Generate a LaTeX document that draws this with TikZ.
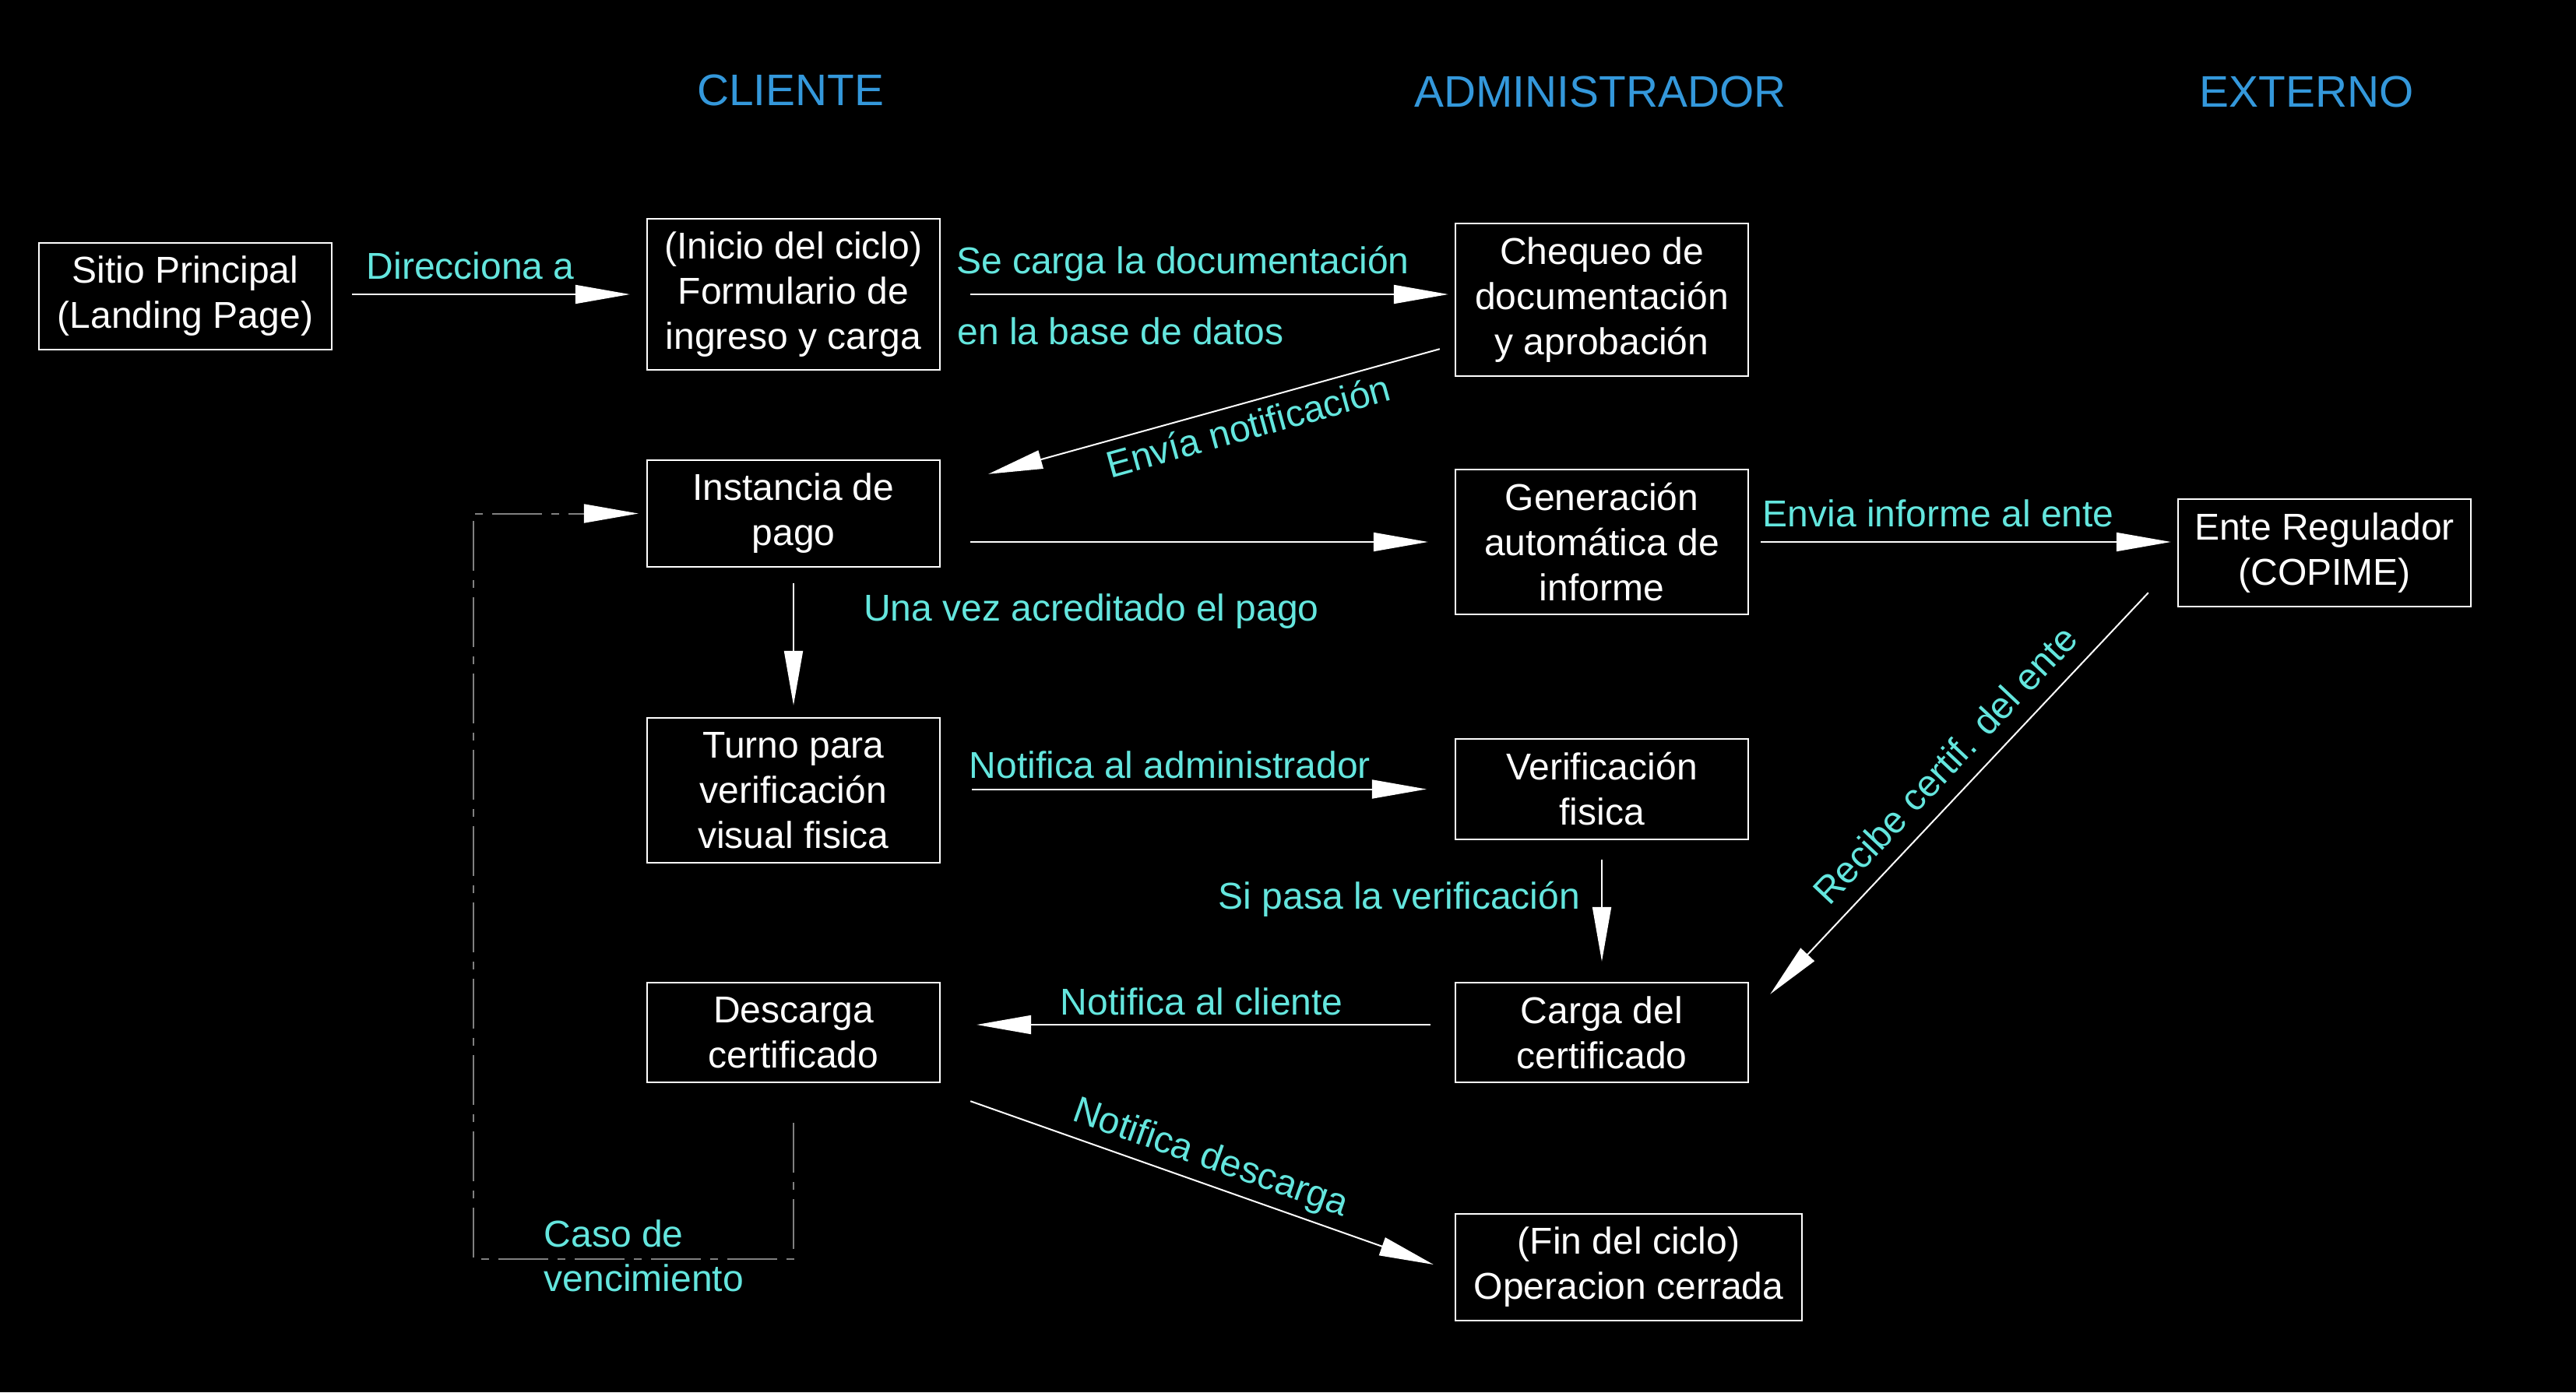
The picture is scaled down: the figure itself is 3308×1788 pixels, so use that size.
\documentclass[tikz,border=0pt]{standalone}
\usepackage{fontspec}
\setmainfont{Liberation Sans}
\usetikzlibrary{arrows.meta,calc}
\definecolor{etiq}{RGB}{100,230,222}
\definecolor{azultit}{RGB}{52,152,219}
\definecolor{gris}{RGB}{128,128,128}
\begin{document}
\begin{tikzpicture}[x=0.25pt,y=-0.25pt,
	caja/.style={draw=white, line width=0.6pt, text=white, align=center, minimum width=94pt, inner sep=0pt, font=\fontsize{12}{14.5}\selectfont},
	flecha/.style={white, line width=0.5pt, -{Triangle[length=17.5pt,width=6pt]}},
	vence/.style={draw=gris, line width=0.5pt, dash pattern=on 16pt off 3pt on 2.5pt off 3pt, -{Triangle[length=17.5pt,width=6pt,color=white,fill=white]}},
	etiqueta/.style={text=etiq, font=\fontsize{12}{14.5}\selectfont, inner sep=0pt, text height=8.6pt, text depth=0pt},
	nota/.style={text=etiq, font=\fontsize{12}{14.25}\selectfont, inner sep=0pt, align=left},
	titulo/.style={text=azultit, font=\fontsize{14.2}{17}\selectfont}]
		
		\fill[black] (0,0) rectangle (3308,1788);
		
		\node[titulo] (tcli) at (1015,116) {CLIENTE};
		\node[titulo] (tadm) at (2055,118) {ADMINISTRADOR};
		\node[titulo] (tex) at (2962,118) {EXTERNO};
		
		\node[caja, minimum height=34.25pt] (sitio) at (238,380.5) {Sitio Principal\\(Landing Page)};
		\node[caja, minimum height=48.5pt] (inicio) at (1019,378) {(Inicio del ciclo)\\Formulario de\\ingreso y carga};
		\node[caja, minimum height=49pt] (chequeo) at (2057,385) {Chequeo de\\documentación\\y aprobación};
		\node[caja, minimum height=34.25pt] (pago) at (1019,659.5) {Instancia de\\pago};
		\node[caja, minimum height=46.5pt] (informe) at (2057,696) {Generación\\automática de\\informe};
		\node[caja, minimum height=34.5pt] (ente) at (2985,710) {Ente Regulador\\(COPIME)};
		\node[caja, minimum height=46.5pt] (turno) at (1019,1015) {Turno para\\verificación\\visual fisica};
		\node[caja, minimum height=32.25pt] (verif) at (2057,1013.5) {Verificación\\fisica};
		\node[caja, minimum height=32pt] (descarga) at (1019,1326) {Descarga\\certificado};
		\node[caja, minimum height=32pt] (carga) at (2057,1326) {Carga del\\certificado};
		\node[caja, minimum height=34.25pt, minimum width=111.25pt] (fin) at (2091.5,1627.5) {(Fin del ciclo)\\Operacion cerrada};
		
		\draw[flecha, shorten <=6.25pt, shorten >=5.25pt] (sitio.east |- inicio.west) -- (inicio.west) node[etiqueta, pos=0.44, above=4.7pt] {Direcciona a};
		\draw[flecha, shorten <=9.5pt, shorten >=2pt] (inicio.east) -- (inicio.east -| chequeo.west)
			node[etiqueta, pos=0.471, above=6.45pt] {Se carga la documentación}
			node[etiqueta, pos=0.35, below=7.2pt] {en la base de datos};
		\draw[flecha] ($(chequeo.south west)+(-19,-36)$) -- ($(pago.north east)+(61,19)$) node[etiqueta, pos=0.438, sloped, below=2.9pt] {Envía notificación};
		\draw[flecha, shorten <=9.5pt, shorten >=8.5pt] (pago.east |- informe.west) -- (informe.west) node[etiqueta, pos=0.293, below=16.45pt] {Una vez acreditado el pago};
		\draw[flecha, shorten <=3.75pt, shorten >=2pt] (informe.east) -- (informe.east -| ente.west) node[etiqueta, pos=0.442, above=4.7pt] {Envia informe al ente};
		\draw[flecha] ($(ente.south west)+(-37,-19)$) -- ($(carga.north east)+(27,16)$) node[etiqueta, pos=0.48, sloped, above=5.2pt] {Recibe certif. del ente};
		\draw[flecha, shorten <=5pt, shorten >=3.75pt] (pago.south) -- (turno.north);
		\draw[flecha, shorten <=10pt, shorten >=9pt] (verif.west -| turno.east) -- (verif.west) node[etiqueta, pos=0.446, above=3.2pt] {Notifica al administrador};
		\draw[flecha, shorten <=6.25pt, shorten >=6.5pt] (verif.south) -- (carga.north) node[etiqueta, pos=0.39, left=6.75pt] {Si pasa la verificación};
		\draw[flecha, shorten <=7.75pt, shorten >=11.5pt] ([yshift=2.5pt]carga.west) -- ([yshift=2.5pt]descarga.east) node[etiqueta, pos=0.492, above=2.95pt] {Notifica al cliente};
		\draw[flecha] ($(descarga.south east)+(38,23)$) -- ($(fin.west)+(-27,-3.5)$) node[etiqueta, pos=0.5, sloped, above=4.7pt] {Notifica descarga};
		
		\draw[vence, shorten >=2.5pt] ($(descarga.south)+(0,51)$) -- ++(0,175) -- ++(-411,0) |- (pago.west);
		\node[nota, anchor=west] (caso) at (698,1612.5) {Caso de\\vencimiento};
		
	\end{tikzpicture}
\end{document}
